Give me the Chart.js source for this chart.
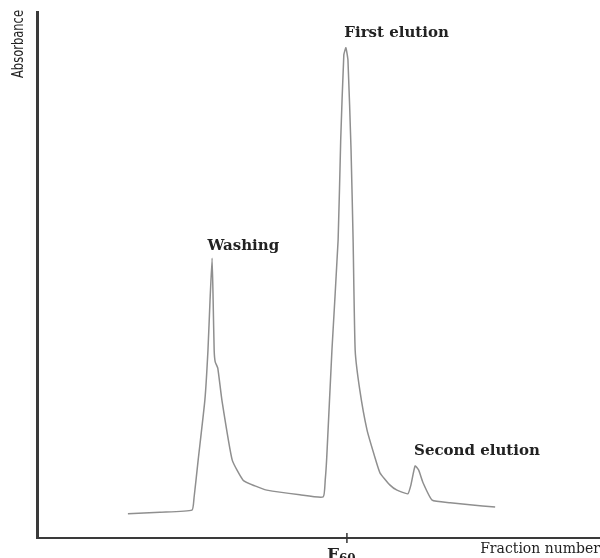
<!DOCTYPE html>
<html>
<head>
<meta charset="utf-8">
<script src="https://cdn.jsdelivr.net/npm/chart.js@4.4.0/dist/chart.umd.min.js"></script>
<style>
  body { margin: 0; background: #fff; }
  #wrap { width: 600px; height: 558px; }
</style>
</head>
<body>
<div id="wrap"><canvas id="elution"></canvas></div>
<script>
// fraction number (x) and absorbance in arbitrary units (y)
const fraction = [17.6, 23.8, 30.0, 30.4, 31.2, 32.5, 33.1, 33.5, 33.9, 34.1, 34.3, 34.5, 35.0, 35.8, 37.8, 39.9, 42.2, 44.5, 50.9, 55.4,
	55.8, 56.1, 57.1, 58.3, 58.8, 59.4, 59.8, 60.2, 60.8, 61.2, 61.6, 62.5, 63.9, 65.4, 66.4, 68.3, 69.7, 71.8,
	72.4, 73.2, 73.9, 74.7, 76.5, 80.0, 83.8, 88.7];
const absorbance = [4.6, 4.9, 5.3, 7.6, 14.8, 26.2, 35.7, 45.2, 53.2, 45.2, 35.7, 33.5, 32.3, 26.2, 14.8, 11.0, 9.9, 9.1, 8.2, 7.8,
	11.0, 15.4, 35.7, 56.7, 75.7, 91.8, 93.2, 90.9, 73.8, 56.7, 35.7, 28.1, 20.5, 15.4, 12.4, 10.1, 9.1, 8.4,
	10.1, 13.7, 12.9, 10.6, 7.2, 6.7, 6.3, 5.9];
const markedFraction = 60;
const peakLabels = ["Washing", "First elution", "Second elution"];
const peakLabelAt = [[33.0, 53.5], [59.5, 94.0], [73.0, 14.5]];

const points = fraction.map((f, i) => ({ x: f, y: absorbance[i] }));

const serif = "'DejaVu Serif', 'Liberation Serif', serif";

const annotations = {
	id: "annotations",
	afterDraw(chart) {
		const ctx = chart.ctx;
		const x = chart.scales.x;
		const y = chart.scales.y;
		const area = chart.chartArea;
		ctx.save();
		ctx.fillStyle = "#222";

		// peak names
		ctx.font = "bold 15px " + serif;
		ctx.textBaseline = "bottom";
		peakLabels.forEach((txt, i) => {
			const p = peakLabelAt[i];
			ctx.fillText(txt, x.getPixelForValue(p[0]), y.getPixelForValue(p[1]) - 3);
		});

		// tick at F60 crossing the x axis
		const tx = x.getPixelForValue(markedFraction);
		ctx.strokeStyle = "#333";
		ctx.lineWidth = 1.5;
		ctx.beginPath();
		ctx.moveTo(tx, area.bottom - 5);
		ctx.lineTo(tx, area.bottom + 5);
		ctx.stroke();

		ctx.textBaseline = "alphabetic";
		ctx.font = "bold 17px " + serif;
		const fw = ctx.measureText("F").width;
		ctx.fillText("F", tx - 20, 560);
		ctx.font = "bold 12px " + serif;
		ctx.fillText(String(markedFraction), tx - 20 + fw, 563);

		// axis titles
		ctx.font = "14px " + serif;
		ctx.textAlign = "right";
		ctx.fillText("Fraction number", 600, 553);

		// narrow y title, squeezed to the length it has in the picture
		ctx.translate(23, 44);
		ctx.rotate(-Math.PI / 2);
		ctx.textAlign = "center";
		ctx.font = "16px 'Liberation Sans Narrow', 'DejaVu Sans Condensed', sans-serif";
		const w = ctx.measureText("Absorbance").width;
		ctx.scale(68 / w, 1);
		ctx.fillText("Absorbance", 0, 0);
		ctx.restore();
	},
};

new Chart(document.getElementById("elution"), {
	type: "line",
	data: {
		datasets: [
			{
				data: points,
				borderColor: "#8f8f8f",
				borderWidth: 1.5,
				pointRadius: 0,
				tension: 0.15,
				fill: false,
			},
		],
	},
	options: {
		responsive: true,
		maintainAspectRatio: false,
		animation: false,
		layout: { padding: { left: 37, top: 12, right: 0, bottom: 20 } },
		plugins: {
			legend: { display: false },
			tooltip: { enabled: false },
		},
		scales: {
			x: {
				type: "linear",
				min: 0,
				max: 109,
				ticks: { display: false },
				grid: { display: false },
				border: { color: "#3a3a3a", width: 2 },
				afterFit: (s) => { s.height = 0; },
			},
			y: {
				min: 0,
				max: 100,
				ticks: { display: false },
				grid: { display: false },
				border: { color: "#3a3a3a", width: 3 },
				afterFit: (s) => { s.width = 0; },
			},
		},
	},
	plugins: [annotations],
});
</script>
</body>
</html>
